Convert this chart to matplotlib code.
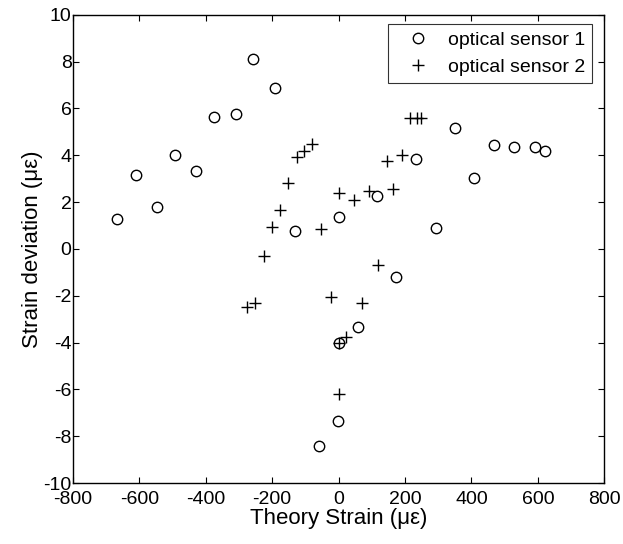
import matplotlib.pyplot as plt

plt.rcParams['font.family'] = ['Liberation Sans', 'DejaVu Sans']
plt.rcParams['axes.unicode_minus'] = False

# Sensor 1 (circles)
s1_theory = [-667, -611, -548, -493, -428, -374, -310, -259, -191, -131, -60, -3, 0,
             2, 57, 115, 173, 234, 292, 351, 408, 469, 527, 592, 622]
s1_dev = [1.27, 3.15, 1.78, 4.02, 3.32, 5.65, 5.78, 8.12, 6.89, 0.78, -8.40, -7.36, -4.03,
          1.35, -3.32, 2.24, -1.21, 3.83, 0.91, 5.18, 3.02, 4.42, 4.37, 4.33, 4.19]

# Sensor 2 (crosses)
s2_theory = [-277, -251, -225, -201, -176, -153, -126, -103, -79, -54, -24, 0, 0,
             0, 23, 45, 70, 93, 120, 145, 165, 190, 215, 237, 248]
s2_dev = [-2.49, -2.32, -0.32, 0.95, 1.67, 2.81, 3.92, 4.16, 4.49, 0.84, -2.04, -4.03, -6.20,
          2.38, -3.77, 2.09, -2.32, 2.49, -0.68, 3.76, 2.56, 4.02, 5.58, 5.58, 5.58]

fig = plt.figure(figsize=(6.23, 5.44), dpi=100)
ax = fig.add_axes([0.117, 0.112, 0.853, 0.861])

ax.plot(s1_theory, s1_dev, 'o', mfc='none', mec='black', mew=1.0, ms=7.5,
        label='optical sensor 1')
ax.plot(s2_theory, s2_dev, '+', color='black', mew=1.0, ms=8,
        label='optical sensor 2')

ax.set_xlim(-800, 800)
ax.set_ylim(-10, 10)
ax.set_xticks(range(-800, 801, 200))
ax.set_yticks(range(-10, 11, 2))
ax.tick_params(direction='in', top=True, right=True, labelsize=14, length=4)
ax.tick_params(axis='x', pad=6)
ax.tick_params(axis='y', pad=1)
for s in ax.spines.values():
    s.set_linewidth(1.0)

ax.set_xlabel('Theory Strain (\u03bc\u03b5)', fontsize=16, labelpad=0)
ax.set_ylabel('Strain deviation (\u03bc\u03b5)', fontsize=16, labelpad=0)

leg = ax.legend(loc='upper right', bbox_to_anchor=(592 / 623, 1 - 24 / 544),
                bbox_transform=fig.transFigure, borderaxespad=0,
                fontsize=14, frameon=True, fancybox=False,
                handlelength=2.4, handletextpad=0.3, borderpad=0.37,
                labelspacing=0.5)
leg.get_frame().set_edgecolor('black')
leg.get_frame().set_linewidth(0.8)

plt.savefig('out.png', dpi=100)
